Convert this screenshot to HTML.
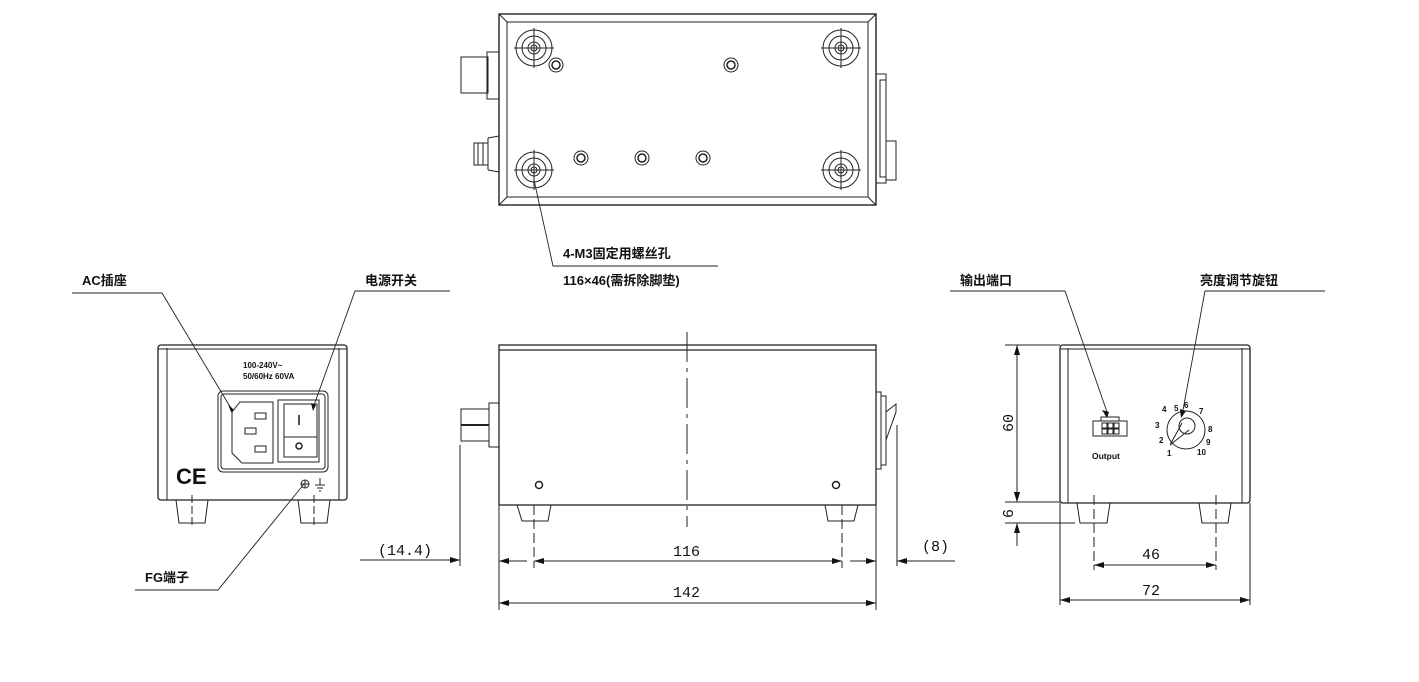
<!DOCTYPE html>
<html><head><meta charset="utf-8"><style>
html,body{margin:0;padding:0;background:#fff;width:1419px;height:682px;overflow:hidden}
text{font-family:"Liberation Sans","Noto Sans CJK SC",sans-serif;fill:#111}
.b{font-weight:bold;font-size:13px}
.d{font-family:"Liberation Mono","DejaVu Sans Mono",monospace;font-size:15px}
</style></head><body>
<svg width="1419" height="682" viewBox="0 0 1419 682" xmlns="http://www.w3.org/2000/svg">
<defs>
<marker id="a" viewBox="0 0 10 6" refX="10" refY="3" markerWidth="10" markerHeight="6" markerUnits="userSpaceOnUse" orient="auto-start-reverse"><path d="M0,0 L10,3 L0,6 z" fill="#111"/></marker>
</defs>
<g fill="none" stroke="#222" stroke-width="1">
<!-- TOP VIEW -->
<rect x="499" y="14" width="377" height="191" stroke-width="1.4"/>
<rect x="507" y="22" width="361" height="175"/>
<line x1="499" y1="14" x2="507" y2="22"/><line x1="876" y1="14" x2="868" y2="22"/>
<line x1="499" y1="205" x2="507" y2="197"/><line x1="876" y1="205" x2="868" y2="197"/>
<g id="foot">
<circle cx="534" cy="48" r="18"/><circle cx="534" cy="48" r="12"/><circle cx="534" cy="48" r="6"/><circle cx="534" cy="48" r="3"/>
<line x1="514" y1="48" x2="554" y2="48"/><line x1="534" y1="28" x2="534" y2="68"/>
</g>
<use href="#foot" x="307"/><use href="#foot" y="122"/><use href="#foot" x="307" y="122"/>
<g id="hole"><circle cx="556" cy="65" r="7"/><circle cx="556" cy="65" r="4" stroke-width="1.5"/></g>
<use href="#hole" x="175"/><use href="#hole" x="25" y="93"/><use href="#hole" x="86" y="93"/><use href="#hole" x="147" y="93"/>
<rect x="461" y="57" width="27" height="36"/><rect x="487" y="52" width="12" height="47"/>
<rect x="474" y="143" width="14" height="22"/><path d="M488,138 L499,136 M488,170 L499,172 M488,138 L488,170"/>
<line x1="478" y1="143" x2="478" y2="165"/><line x1="483" y1="143" x2="483" y2="165"/>
<rect x="876" y="74" width="10" height="109"/><rect x="880" y="80" width="6" height="97"/><rect x="886" y="141" width="10" height="39"/>
<polyline points="534,180 553,266 718,266" stroke-width="0.9"/>
<!-- FRONT VIEW -->
<rect x="158" y="345" width="189" height="155" rx="3" stroke-width="1.3"/>
<line x1="167" y1="348" x2="167" y2="500"/><line x1="339" y1="348" x2="339" y2="500"/>
<line x1="158" y1="349" x2="347" y2="349"/>
<path d="M176,500 L179,523 L205,523 L208,500 M298,500 L301,523 L327,523 L330,500"/>
<line x1="192" y1="495" x2="192" y2="527" stroke-dasharray="8,3"/><line x1="314" y1="495" x2="314" y2="527" stroke-dasharray="8,3"/>
<rect x="218" y="391" width="110" height="81" rx="5"/><rect x="221" y="394" width="104" height="75" rx="3"/>
<path d="M240,402 L273,402 L273,463 L242,463 L232,453 L232,412 Z"/>
<rect x="255" y="413" width="11" height="6"/><rect x="245" y="428" width="11" height="6"/><rect x="255" y="446" width="11" height="6"/>
<rect x="278" y="400" width="41" height="62"/><rect x="284" y="404" width="33" height="53"/><line x1="284" y1="437" x2="317" y2="437"/>
<line x1="299" y1="415" x2="299" y2="425" stroke-width="1.6"/><circle cx="299" cy="446" r="3" stroke-width="1.5"/>
<circle cx="305" cy="484" r="4"/><line x1="301" y1="484" x2="309" y2="484"/><line x1="305" y1="480" x2="305" y2="488"/>
<path d="M320,478 L320,485 M315,485 L325,485 M317,488 L323,488 M319,491 L321,491"/>
<polyline points="72,293 162,293 232,410" stroke-width="0.9"/>
<polyline points="450,291 355,291 313,408" stroke-width="0.9"/>
<polyline points="135,590 218,590 304,484" stroke-width="0.9"/>
<line x1="360" y1="560" x2="460" y2="560" marker-end="url(#a)"/>
<line x1="460" y1="445" x2="460" y2="566"/>
<!-- SIDE VIEW -->
<rect x="499" y="345" width="377" height="160" stroke-width="1.3"/>
<line x1="499" y1="350" x2="876" y2="350" stroke-width="1.3"/>
<line x1="687" y1="332" x2="687" y2="527" stroke-dasharray="30,6,4,6"/>
<path d="M517,505 L522,521 L548,521 L551,505 M825,505 L828,521 L854,521 L858,505"/>
<circle cx="539" cy="485" r="3.5" stroke-width="1.5"/><circle cx="836" cy="485" r="3.5" stroke-width="1.5"/>
<rect x="461" y="409" width="28" height="32"/><rect x="489" y="403" width="10" height="44"/><line x1="461" y1="425" x2="489" y2="425" stroke-width="2"/>
<rect x="876" y="392" width="5" height="77"/><rect x="881" y="396" width="5" height="69"/><path d="M886,412 L896,404 L896,412 L886,440"/>
<line x1="534" y1="505" x2="534" y2="568" stroke-dasharray="10,4"/><line x1="842" y1="505" x2="842" y2="568" stroke-dasharray="10,4"/>
<line x1="499" y1="505" x2="499" y2="610"/><line x1="876" y1="505" x2="876" y2="610"/>
<line x1="897" y1="425" x2="897" y2="566"/>
<line x1="534" y1="561" x2="842" y2="561" marker-start="url(#a)" marker-end="url(#a)"/>
<line x1="499" y1="561" x2="527" y2="561" marker-start="url(#a)"/><line x1="850" y1="561" x2="876" y2="561" marker-end="url(#a)"/>
<line x1="499" y1="603" x2="876" y2="603" marker-start="url(#a)" marker-end="url(#a)"/>
<line x1="955" y1="561" x2="897" y2="561" marker-end="url(#a)"/>
<!-- REAR VIEW -->
<rect x="1060" y="345" width="190" height="158" rx="3" stroke-width="1.3"/>
<line x1="1068" y1="348" x2="1068" y2="503"/><line x1="1242" y1="348" x2="1242" y2="503"/>
<line x1="1060" y1="349" x2="1250" y2="349"/>
<path d="M1077,503 L1080,523 L1107,523 L1110,503 M1199,503 L1202,523 L1228,523 L1231,503"/>
<line x1="1094" y1="495" x2="1094" y2="570" stroke-dasharray="10,4"/><line x1="1216" y1="495" x2="1216" y2="570" stroke-dasharray="10,4"/>
<line x1="1060" y1="503" x2="1060" y2="605"/><line x1="1250" y1="503" x2="1250" y2="605"/>
<line x1="1094" y1="565" x2="1216" y2="565" marker-start="url(#a)" marker-end="url(#a)"/>
<line x1="1060" y1="600" x2="1250" y2="600" marker-start="url(#a)" marker-end="url(#a)"/>
<line x1="1005" y1="345" x2="1060" y2="345"/><line x1="1005" y1="502" x2="1060" y2="502"/><line x1="1005" y1="523" x2="1075" y2="523"/>
<line x1="1017" y1="345" x2="1017" y2="502" marker-start="url(#a)" marker-end="url(#a)"/>
<line x1="1017" y1="488" x2="1017" y2="502" marker-end="url(#a)"/><line x1="1017" y1="546" x2="1017" y2="523" marker-end="url(#a)"/>
<rect x="1093" y="421" width="34" height="15"/><rect x="1101" y="417" width="18" height="4"/>
<rect x="1102" y="423" width="5" height="5"/><rect x="1108" y="423" width="5" height="5"/><rect x="1114" y="423" width="5" height="5"/>
<rect x="1102" y="429" width="5" height="5"/><rect x="1108" y="429" width="5" height="5"/><rect x="1114" y="429" width="5" height="5"/>
<circle cx="1186" cy="430" r="19"/><circle cx="1187" cy="426" r="8"/>
<path d="M1170,445 L1182,423 M1170,445 L1189,430"/>
<polyline points="950,291 1065,291 1107,412" stroke-width="0.9"/>
<polyline points="1325,291 1205,291 1183,410" stroke-width="0.9"/>
</g>
<path d="M1102,410 L1109,412 L1107,418 Z M1180,409 L1186,411 L1181,418 Z M228,404 L234,410 L231,412 Z M311,403 L316,405 L313,411 Z" fill="#111"/>
<!-- TEXT -->
<text x="563" y="258" class="b">4-M3固定用螺丝孔</text>
<text x="563" y="285" class="b">116×46(需拆除脚垫)</text>
<text x="82" y="285" class="b">AC插座</text>
<text x="365" y="285" class="b">电源开关</text>
<text x="145" y="582" class="b">FG端子</text>
<text x="960" y="285" class="b">输出端口</text>
<text x="1200" y="285" class="b">亮度调节旋钮</text>
<text x="243" y="368" style="font-size:8px;font-weight:bold">100-240V~</text>
<text x="243" y="379" style="font-size:8px;font-weight:bold">50/60Hz 60VA</text>
<text x="176" y="484" style="font-size:22px;font-weight:bold">CE</text>
<text x="1092" y="459" style="font-size:8.5px;font-weight:bold">Output</text>
<g style="font-size:8px;font-weight:bold">
<text x="1174" y="411">5</text><text x="1184" y="408">6</text><text x="1199" y="414">7</text><text x="1208" y="432">8</text>
<text x="1206" y="445">9</text><text x="1197" y="455">10</text><text x="1162" y="412">4</text><text x="1155" y="428">3</text>
<text x="1159" y="443">2</text><text x="1167" y="456">1</text>
</g>
<text x="378" y="555" class="d">(14.4)</text>
<text x="673" y="556" class="d">116</text>
<text x="673" y="597" class="d">142</text>
<text x="922" y="551" class="d">(8)</text>
<text x="1142" y="559" class="d">46</text>
<text x="1142" y="595" class="d">72</text>
<text x="0" y="0" class="d" transform="translate(1013,432) rotate(-90)">60</text>
<text x="0" y="0" class="d" transform="translate(1013,518) rotate(-90)">6</text>
</svg>
</body></html>
